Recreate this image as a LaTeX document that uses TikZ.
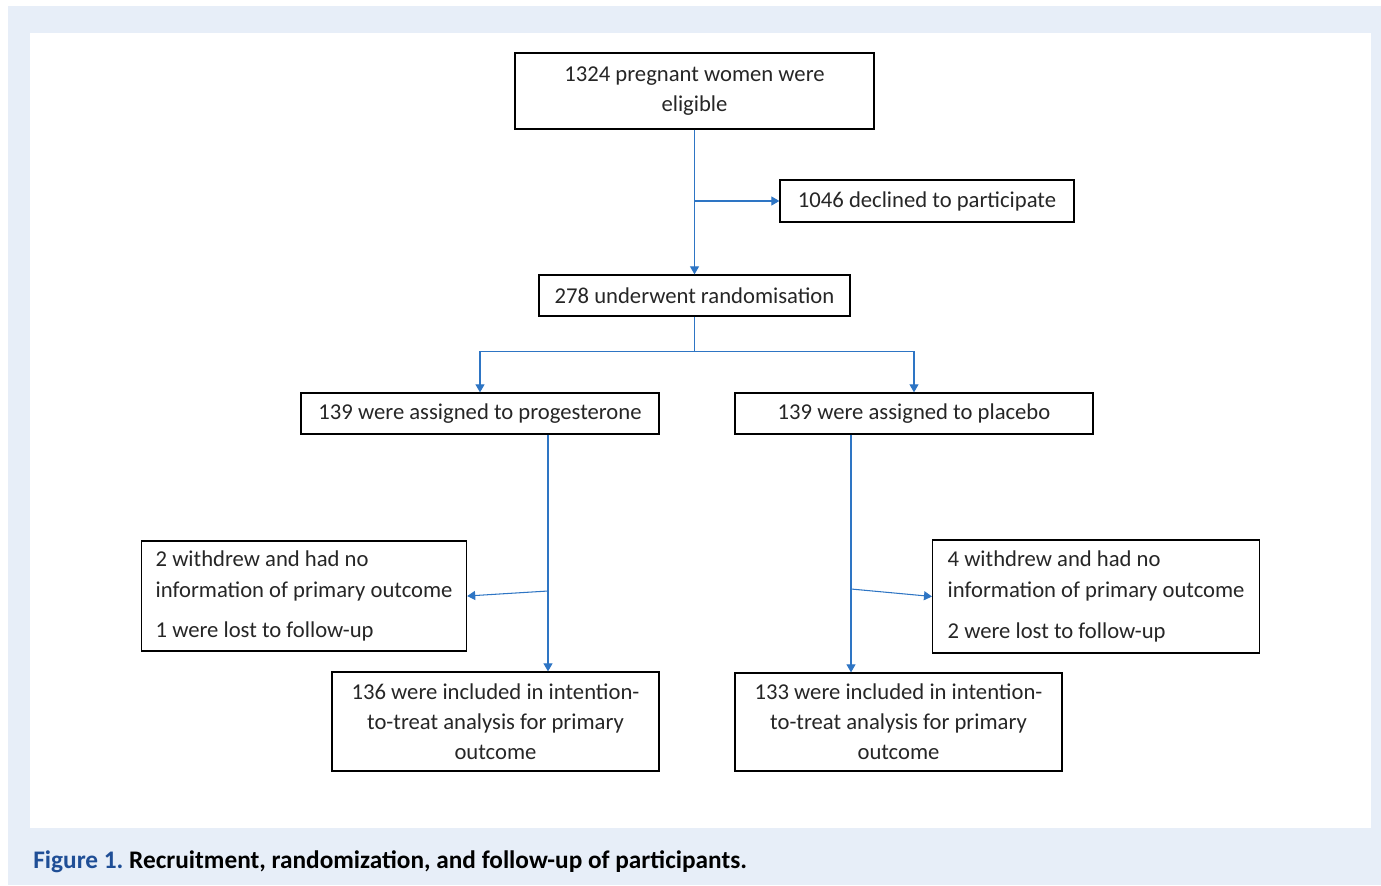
\documentclass[tikz,border=0pt]{standalone}
\usepackage{fontspec}
\setmainfont{Carlito}
\usepackage{xcolor}
\usetikzlibrary{arrows.meta, positioning, calc}

\definecolor{panelblue}{RGB}{231,238,248}
\definecolor{flowblue}{RGB}{46,117,196}
\definecolor{figblue}{RGB}{31,78,150}
\definecolor{boxtext}{RGB}{38,38,38}

\begin{document}
\begin{tikzpicture}[
    x=0.02cm, y=-0.02cm,
    every node/.style={font=\fontsize{12.9pt}{17pt}\selectfont, text=boxtext},
    box/.style={rectangle, draw=black, line width=0.75pt, fill=white, align=center, minimum width=#1},
    notebox/.style={rectangle, draw=black, line width=0.75pt, fill=white, align=left, anchor=west, inner xsep=0.28cm, minimum height=#1, font=\fontsize{12.9pt}{17.6pt}\selectfont},
    arrow/.style={-{Triangle[length=1.6mm, width=1.8mm]}, flowblue, line width=0.6pt}
]

% Panel and margins
\useasboundingbox (0,0) rectangle (1381,885);
\fill[panelblue] (8,6) rectangle (1381,885);
\fill[white] (30,33) rectangle (1371,828);

% Enrolment
\node[box=7.18cm, minimum height=1.52cm] (elig) at (694.5,91) {1324 pregnant women were\\eligible};
\node[box=5.88cm, minimum height=0.84cm] (decl) at (927,201) {1046 declined to participate};
\node[box=6.22cm, minimum height=0.82cm] (rand) at (694.5,295.5) {278 underwent randomisation};

% Allocation
\node[box=7.16cm, minimum height=0.82cm] (prog) at (480,413.5) {139 were assigned to progesterone};
\node[box=7.16cm, minimum height=0.82cm] (plac) at (914,413.5) {139 were assigned to placebo};

% Follow-up
\node[notebox=2.2cm] (wdprog) at (141,596) {2 withdrew and had no\\information of primary outcome\\[0.2cm]1 were lost to follow-up};
\node[notebox=2.26cm, inner xsep=0.3cm] (wdplac) at (932,596.5) {4 withdrew and had no\\information of primary outcome\\[0.2cm]2 were lost to follow-up};

% Analysis
\node[box=6.54cm, minimum height=1.98cm] (itprog) at (495.5,721.5) {136 were included in intention-\\to-treat analysis for primary\\outcome};
\node[box=6.54cm, minimum height=1.96cm] (itplac) at (898.5,722) {133 were included in intention-\\to-treat analysis for primary\\outcome};

% Split points
\coordinate (lsplit) at (548,591);
\coordinate (rsplit) at (851,589);

% Arrows
\draw[arrow] (elig) -- (rand);
\draw[arrow] (elig.south |- decl.west) -- (decl.west);
\draw[flowblue, line width=0.6pt] (rand.south) -- ++(0,35) coordinate (fork);
\draw[arrow] (fork) -| (prog.north);
\draw[arrow] (fork) -| (plac.north);
\draw[arrow] (prog.south -| lsplit) -- (itprog.north -| lsplit);
\draw[arrow] (lsplit) -- (wdprog.east);
\draw[arrow] (plac.south -| rsplit) -- (itplac.north -| rsplit);
\draw[arrow] (rsplit) -- (wdplac.west);

% Caption
\node[anchor=west, font=\fontsize{14.4pt}{17pt}\selectfont\bfseries, text=black, inner sep=0pt] (caption) at (33,862) {\textcolor{figblue}{Figure 1.}\ Recruitment, randomization, and follow-up of participants.};

\end{tikzpicture}
\end{document}
